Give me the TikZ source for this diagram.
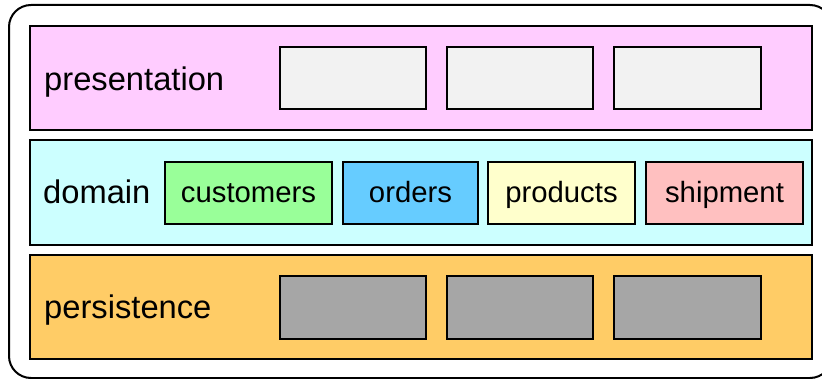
\documentclass[tikz,border=0pt]{standalone}
\usepackage{fontspec}
\setmainfont{Liberation Sans}
\definecolor{presfill}{HTML}{FFCCFF}
\definecolor{domfill}{HTML}{CCFFFF}
\definecolor{persfill}{HTML}{FFCC66}
\definecolor{lightbox}{HTML}{F2F2F2}
\definecolor{darkbox}{HTML}{A6A6A6}
\definecolor{custfill}{HTML}{99FF99}
\definecolor{ordfill}{HTML}{66CCFF}
\definecolor{prodfill}{HTML}{FFFFCC}
\definecolor{shipfill}{HTML}{FFC0C0}
\tikzset{
  layer/.style={draw=black, line width=1.5pt},
  comp/.style={draw=black, line width=1.5pt},
  laytext/.style={anchor=base west, inner sep=0pt, font=\fontsize{32.7}{36}\selectfont},
  comptext/.style={anchor=base, inner sep=0pt, font=\fontsize{29.3}{33}\selectfont},
}
\begin{document}
\begin{tikzpicture}[x=1pt,y=-1pt]
\useasboundingbox (0,0) rectangle (822,379);
\begin{scope}
\clip (0,0) rectangle (822,379);
\draw[line width=2pt, rounded corners=22pt] (9,5) rectangle (832,378);
\end{scope}
% presentation
\filldraw[layer, fill=presfill] (30,26) rectangle (812,130);
\node[laytext] (lpres) at (44,91) {presentation};
\filldraw[comp, fill=lightbox] (280,47) rectangle (426,109);
\filldraw[comp, fill=lightbox] (447,47) rectangle (593,109);
\filldraw[comp, fill=lightbox] (614,47) rectangle (761,109);
% domain
\filldraw[layer, fill=domfill] (30,140) rectangle (812,245);
\node[laytext] (ldom) at (43,204) {domain};
\filldraw[comp, fill=custfill] (165,162) rectangle (332,224);
\node[comptext] (cust) at (248.5,203) {customers};
\filldraw[comp, fill=ordfill] (343,162) rectangle (478,224);
\node[comptext] (ord) at (410.5,203) {orders};
\filldraw[comp, fill=prodfill] (488,162) rectangle (635,224);
\node[comptext] (prod) at (561.5,203) {products};
\filldraw[comp, fill=shipfill] (646,162) rectangle (803,224);
\node[comptext] (ship) at (724.5,203) {shipment};
% persistence
\filldraw[layer, fill=persfill] (30,255) rectangle (812,359);
\node[laytext] (lpers) at (44,319) {persistence};
\filldraw[comp, fill=darkbox] (280,276) rectangle (426,339);
\filldraw[comp, fill=darkbox] (447,276) rectangle (593,339);
\filldraw[comp, fill=darkbox] (614,276) rectangle (761,339);
\end{tikzpicture}
\end{document}
